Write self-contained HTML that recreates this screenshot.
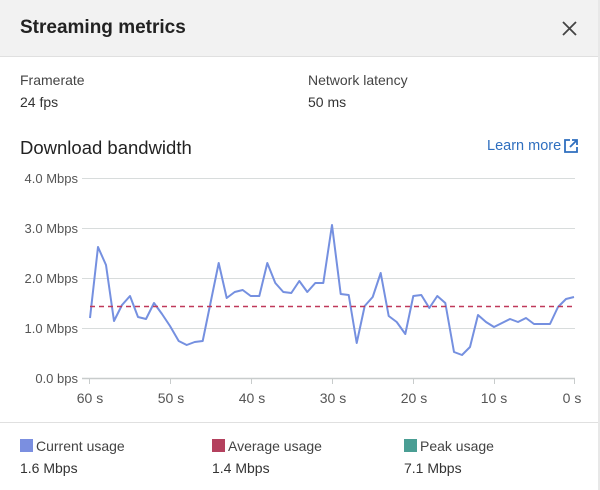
<!DOCTYPE html>
<html><head><meta charset="utf-8"><style>
body{margin:0;width:600px;height:490px;background:#fff;font-family:"Liberation Sans",sans-serif;color:#333;position:relative;overflow:hidden}
.hdr{position:absolute;left:0;top:0;width:600px;height:56px;background:#f2f2f2;border-bottom:1px solid #e0e0e0}
.t{position:absolute;white-space:nowrap}
.sq{position:absolute;width:13px;height:13px}
</style></head><body>
<div class="hdr"></div>
<div class="t" style="left:20px;top:17px;font-size:19px;font-weight:bold;color:#222">Streaming metrics</div>
<svg class="t" style="left:562px;top:21px" width="15" height="15"><path d="M1 1L14 14M14 1L1 14" stroke="#444" stroke-width="1.8"/></svg>
<div class="t" style="left:20px;top:72px;font-size:14px;color:#444">Framerate</div>
<div class="t" style="left:20px;top:94px;font-size:14px">24 fps</div>
<div class="t" style="left:308px;top:72px;font-size:14px;color:#444">Network latency</div>
<div class="t" style="left:308px;top:94px;font-size:14px">50 ms</div>
<div class="t" style="left:20px;top:137px;font-size:18.5px;color:#222">Download bandwidth</div>
<div class="t" style="left:487px;top:138px;font-size:14.5px;color:#2f6fbf">Learn more</div>
<svg class="t" style="left:564px;top:139px" width="14" height="14"><path d="M6 1H1V13H13V8" fill="none" stroke="#2f6fbf" stroke-width="1.8"/><path d="M8 1H13V6M13 1L6 8" fill="none" stroke="#2f6fbf" stroke-width="1.8"/></svg>
<svg class="t" style="left:0;top:0" width="600" height="420">
<g stroke="#d8dcdc" stroke-width="1">
<line x1="82" y1="178.5" x2="575" y2="178.5"/><line x1="82" y1="228.5" x2="575" y2="228.5"/><line x1="82" y1="278.5" x2="575" y2="278.5"/><line x1="82" y1="328.5" x2="575" y2="328.5"/>
</g>
<line x1="82" y1="378.5" x2="575" y2="378.5" stroke="#c8cccc" stroke-width="1.5"/>
<g stroke="#c8cccc"><line x1="89.5" y1="378" x2="89.5" y2="384"/><line x1="170.5" y1="378" x2="170.5" y2="384"/><line x1="251.5" y1="378" x2="251.5" y2="384"/><line x1="332.5" y1="378" x2="332.5" y2="384"/><line x1="413.5" y1="378" x2="413.5" y2="384"/><line x1="494.5" y1="378" x2="494.5" y2="384"/><line x1="574.5" y1="378" x2="574.5" y2="384"/></g>
<g font-size="13" fill="#555" text-anchor="end" font-family="Liberation Sans,sans-serif">
<text x="78" y="183">4.0 Mbps</text><text x="78" y="233">3.0 Mbps</text><text x="78" y="283">2.0 Mbps</text><text x="78" y="333">1.0 Mbps</text><text x="78" y="383">0.0 bps</text>
</g>
<g font-size="14" fill="#555" text-anchor="middle" font-family="Liberation Sans,sans-serif">
<text x="90" y="403">60 s</text><text x="171" y="403">50 s</text><text x="252" y="403">40 s</text><text x="333" y="403">30 s</text><text x="414" y="403">20 s</text><text x="494" y="403">10 s</text><text x="572" y="403">0 s</text>
</g>
<polyline fill="none" stroke="#7590e0" stroke-width="2" stroke-linejoin="round" points="90,318 98,247 106,265 114,321 122,305 130,296 138,317 146,319 154,303 162,314 170,326 178.7,341 186.7,345 194.7,342 202.7,341 210.7,302 218.7,263 226.7,298 234.7,292 242.7,290 250.7,296 259.3,296 267.3,263 275.3,283 283.3,292 291.3,293 299.3,281 307.3,292 315.3,283 323.3,283 332,225 340.7,294 348.7,295 356.7,343 364.7,306 372.7,297 380.7,273 388.7,316 396.7,322 405.3,334 413.3,296 421.3,295 429.3,308 437.3,296 445.3,303 454,352 462,355 470,347 478,315 486,322 494,327 502,323 510,319 518,322 526,318 534,324 542,324 550,324 558,307 566,299 574,297"/>
<line x1="90" y1="306.5" x2="575" y2="306.5" stroke="#c0395a" stroke-width="1.6" stroke-dasharray="5,4"/>
</svg>
<div style="position:absolute;left:0;top:422px;width:600px;height:1px;background:#e0e0e0"></div>
<div style="position:absolute;left:598px;top:0;width:2px;height:490px;background:#e8e8e8"></div>
<div class="sq" style="left:20px;top:439px;background:#7b8fe0"></div>
<div class="t" style="left:36px;top:438px;font-size:14px;color:#444">Current usage</div>
<div class="t" style="left:20px;top:460px;font-size:14px">1.6 Mbps</div>
<div class="sq" style="left:212px;top:439px;background:#b4415e"></div>
<div class="t" style="left:228px;top:438px;font-size:14px;color:#444">Average usage</div>
<div class="t" style="left:212px;top:460px;font-size:14px">1.4 Mbps</div>
<div class="sq" style="left:404px;top:439px;background:#4a9e94"></div>
<div class="t" style="left:420px;top:438px;font-size:14px;color:#444">Peak usage</div>
<div class="t" style="left:404px;top:460px;font-size:14px">7.1 Mbps</div>
</body></html>
